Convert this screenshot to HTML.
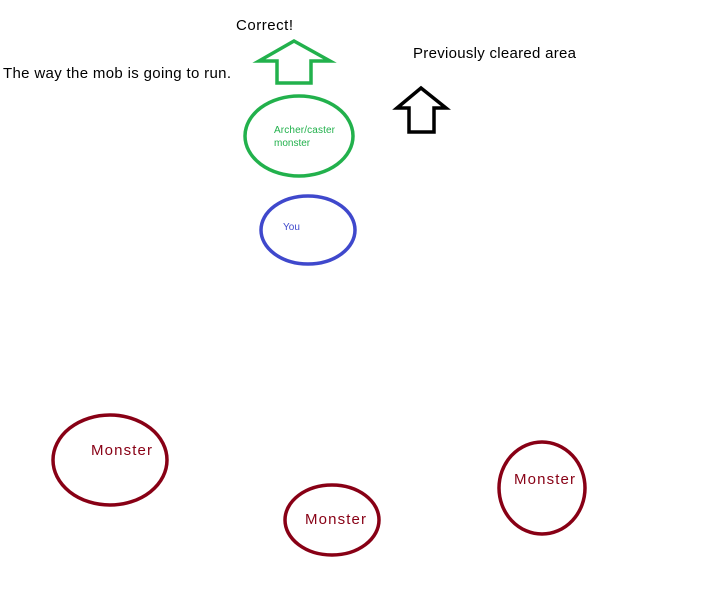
<!DOCTYPE html>
<html><head><style>
body{margin:0;background:#fff;width:723px;height:600px;overflow:hidden;font-family:"Liberation Sans",sans-serif}
</style></head><body>
<svg width="723" height="600" style="position:absolute;left:0;top:0" font-family="Liberation Sans, sans-serif">
<text x="236" y="30" font-size="15" fill="#000" textLength="57">Correct!</text>
<text x="3" y="78" font-size="15" fill="#000" textLength="228">The way the mob is going to run.</text>
<text x="413" y="58" font-size="15" fill="#000" textLength="163">Previously cleared area</text>
<polygon points="294,41 330,61 311,61 311,83 277,83 277,61 259,61" fill="none" stroke="#22b14c" stroke-width="3.5"/>
<polygon points="421,88 446,108 434,108 434,132 409,132 409,108 397,108" fill="none" stroke="#000" stroke-width="3.5"/>
<ellipse cx="299" cy="136" rx="54" ry="40" fill="none" stroke="#22b14c" stroke-width="3.5"/>
<text x="274" y="133" font-size="10" fill="#22b14c" textLength="61">Archer/caster</text>
<text x="274" y="146" font-size="10" fill="#22b14c">monster</text>
<ellipse cx="308" cy="230" rx="47" ry="34" fill="none" stroke="#3f48cc" stroke-width="3.5"/>
<text x="283" y="230" font-size="10" fill="#3f48cc">You</text>
<ellipse cx="110" cy="460" rx="57" ry="45" fill="none" stroke="#880015" stroke-width="3.5"/>
<text x="91" y="455" font-size="15" fill="#880015" textLength="61">Monster</text>
<ellipse cx="332" cy="520" rx="47" ry="35" fill="none" stroke="#880015" stroke-width="3.5"/>
<text x="305" y="524" font-size="15" fill="#880015" textLength="61">Monster</text>
<ellipse cx="542" cy="488" rx="43" ry="46" fill="none" stroke="#880015" stroke-width="3.5"/>
<text x="514" y="484" font-size="15" fill="#880015" textLength="61">Monster</text>
</svg>
</body></html>
